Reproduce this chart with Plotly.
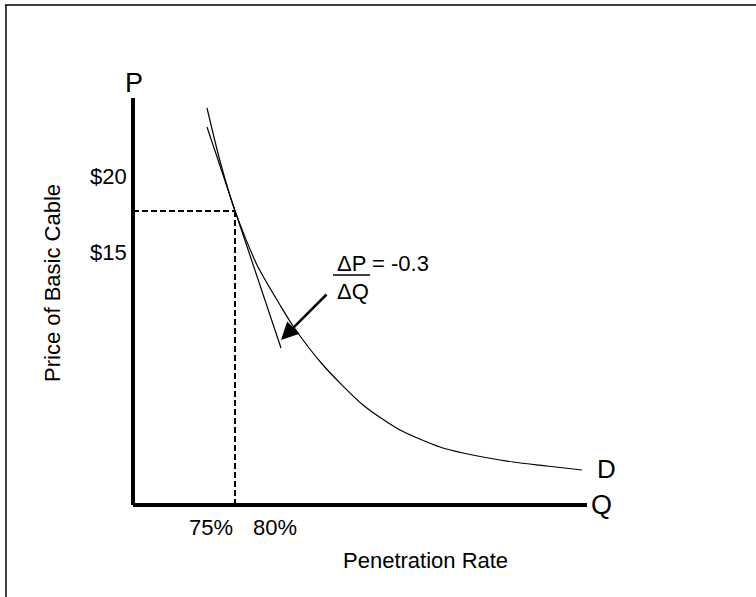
import plotly.graph_objects as go

# Demand curve (schematic units: Q to the right from the origin, P upward)
demand_q = [74, 87, 102, 124, 147, 160, 190, 230, 267, 307, 330, 380, 414, 449]
demand_p = [397, 344, 294, 240, 200, 179, 140, 100, 75, 58, 52, 43, 39, 35]

# Tangent line at the point of interest
tangent_q = [74, 148]
tangent_p = [378, 157]

# Point of tangency (75%-80% penetration, between $15 and $20)
point_q = 102
point_p = 294

# Axis extents
axis_q_max = 454
axis_p_max = 407

# Tick labels
price_tick_labels = ["$20", "$15"]
price_tick_values = [329, 253]
rate_tick_labels = ["75%", "80%"]
rate_tick_values = [78, 142]

slope_text = "= -0.3"

FONT = "Liberation Sans, Arial, sans-serif"

fig = go.Figure()

# Axes (thick black lines)
fig.add_trace(go.Scatter(x=[0, 0], y=[0, axis_p_max], mode="lines",
                         line=dict(color="black", width=4), hoverinfo="skip"))
fig.add_trace(go.Scatter(x=[0, axis_q_max], y=[0, 0], mode="lines",
                         line=dict(color="black", width=4), hoverinfo="skip"))

# Dashed guides
fig.add_trace(go.Scatter(x=[0, point_q], y=[point_p, point_p], mode="lines",
                         line=dict(color="black", width=2, dash="6px,3px"), hoverinfo="skip"))
fig.add_trace(go.Scatter(x=[point_q, point_q], y=[0, point_p], mode="lines",
                         line=dict(color="black", width=2, dash="6px,3px"), hoverinfo="skip"))

# Demand curve
fig.add_trace(go.Scatter(x=demand_q, y=demand_p, mode="lines",
                         line=dict(color="black", width=1.2, shape="spline", smoothing=0.7),
                         hoverinfo="skip"))
# Tangent
fig.add_trace(go.Scatter(x=tangent_q, y=tangent_p, mode="lines",
                         line=dict(color="black", width=1.2), hoverinfo="skip"))

# Fraction bar for ΔP/ΔQ
fig.add_trace(go.Scatter(x=[200, 237], y=[230, 230], mode="lines",
                         line=dict(color="black", width=1.5), hoverinfo="skip"))

ann = []
def txt(x, y, s, size=22, xanchor="center", angle=0):
    ann.append(dict(x=x, y=y, xref="x", yref="y", text=s, showarrow=False,
                    xanchor=xanchor, yanchor="middle", textangle=angle,
                    font=dict(family=FONT, size=size, color="black")))

txt(1, 422, "P", size=27)
txt(468, 0, "Q", size=27)
txt(473, 36, "D", size=26)
for lab, v in zip(price_tick_labels, price_tick_values):
    txt(-4, v, lab, xanchor="right")
for lab, v in zip(rate_tick_labels, rate_tick_values):
    txt(v, -22, lab)
txt(292, -55, "Penetration Rate")
txt(-81, 222, "Price of Basic Cable", angle=-90)
txt(202, 242, "ΔP " + slope_text, xanchor="left")
txt(202, 214, "ΔQ", xanchor="left")

# Arrow pointing at the tangent line
ann.append(dict(x=148, y=165, ax=195, ay=212, xref="x", yref="y", axref="x", ayref="y",
                text="", showarrow=True, arrowhead=2, arrowsize=1.4, arrowwidth=2.5,
                arrowcolor="black"))

fig.update_layout(
    width=756, height=597, autosize=False,
    margin=dict(l=0, r=0, t=0, b=0),
    paper_bgcolor="white", plot_bgcolor="white",
    showlegend=False,
    annotations=ann,
    xaxis=dict(range=[-133, 623], visible=False, fixedrange=True),
    yaxis=dict(range=[-92, 505], visible=False, fixedrange=True),
    shapes=[
        dict(type="line", xref="paper", yref="paper", x0=5/756, x1=1.02,
             y0=1 - 5/597, y1=1 - 5/597, line=dict(color="black", width=1.5)),
        dict(type="line", xref="paper", yref="paper", x0=6/756, x1=6/756,
             y0=-0.02, y1=1 - 5/597, line=dict(color="black", width=1.5)),
    ],
)

fig.write_html("out.html", config={"displayModeBar": False},
               post_script="document.body.style.margin='0';document.body.style.overflow='hidden';")
